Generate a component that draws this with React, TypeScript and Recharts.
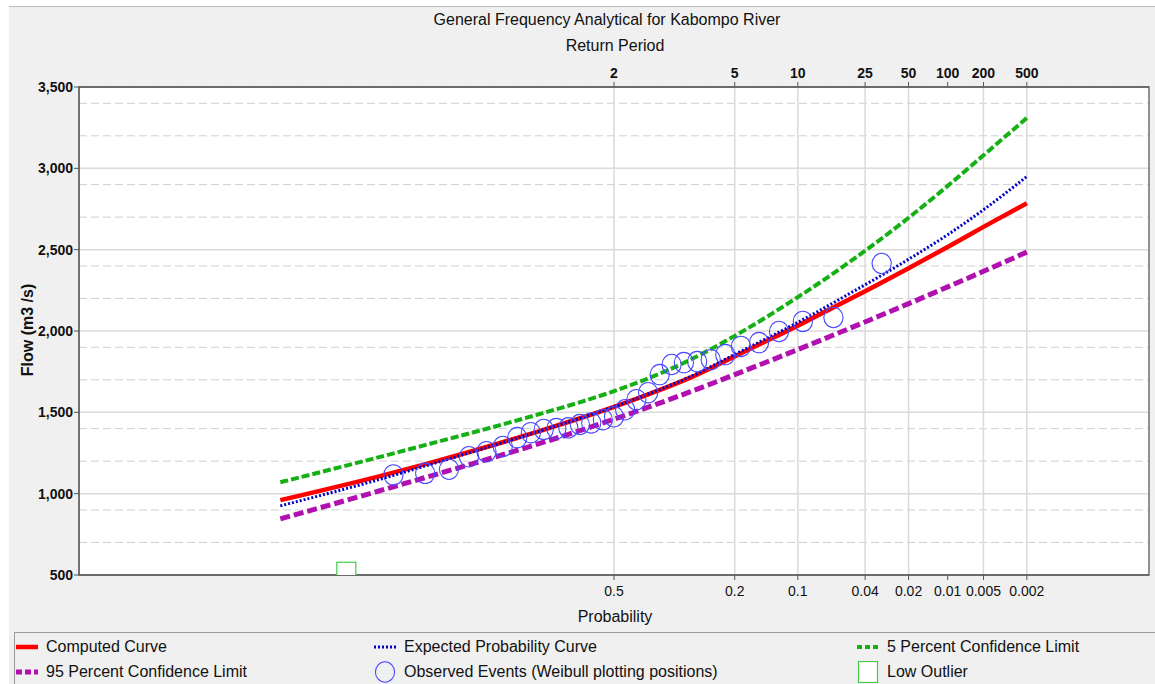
import React from "react";
import {
  ComposedChart,
  Line,
  Scatter,
  XAxis,
  YAxis,
  CartesianGrid,
  ReferenceArea,
} from "recharts";

// exceedance probabilities used for the fitted curves
const curveProb = [0.99, 0.95, 0.9, 0.8, 0.7, 0.6, 0.5, 0.4, 0.3, 0.2, 0.1, 0.05, 0.02, 0.01, 0.005, 0.002];
const computed = [960, 1105, 1189, 1299, 1383, 1459, 1534, 1615, 1710, 1844, 2033, 2196, 2386, 2517, 2640, 2785];
const expected = [925, 1085, 1179, 1296, 1383, 1459, 1534, 1618, 1716, 1856, 2053, 2231, 2441, 2592, 2745, 2950];
const upper5 = [1070, 1223, 1307, 1410, 1488, 1558, 1630, 1714, 1820, 1970, 2208, 2426, 2696, 2892, 3080, 3310];
const lower95 = [845, 1015, 1108, 1222, 1307, 1383, 1458, 1536, 1624, 1732, 1886, 2017, 2168, 2271, 2367, 2485];

// observed events, Weibull plotting positions
const observedProb = [
  0.031, 0.063, 0.094, 0.125, 0.156, 0.188, 0.219, 0.25, 0.281, 0.313,
  0.344, 0.375, 0.406, 0.438, 0.469, 0.5, 0.531, 0.563, 0.594, 0.625,
  0.656, 0.688, 0.719, 0.75, 0.781, 0.813, 0.844, 0.875, 0.906, 0.938,
];
const observedFlow = [
  2415, 2083, 2059, 1997, 1929, 1905, 1855, 1824, 1812, 1806,
  1794, 1732, 1621, 1578, 1516, 1473, 1455, 1435, 1425, 1405,
  1400, 1395, 1375, 1345, 1290, 1258, 1227, 1150, 1125, 1115,
];
const outlierProb = [0.969];
const outlierFlow = [520];

// axis ticks
const probTicks = [0.5, 0.2, 0.1, 0.04, 0.02, 0.01, 0.005, 0.002];
const probLabels = ["0.5", "0.2", "0.1", "0.04", "0.02", "0.01", "0.005", "0.002"];
const returnPeriods = [2, 5, 10, 25, 50, 100, 200, 500];
const returnLabels = ["2", "5", "10", "25", "50", "100", "200", "500"];
const flowTicks = [500, 1000, 1500, 2000, 2500, 3000, 3500];
const minorFlowTicks = [
  600, 700, 800, 900, 1100, 1200, 1300, 1400, 1600, 1700, 1800, 1900,
  2100, 2200, 2300, 2400, 2600, 2700, 2800, 2900, 3100, 3200, 3300, 3400,
];

const FONT = '"Liberation Sans", Arial, Helvetica, sans-serif';

// inverse standard normal (Acklam)
function normInv(p: number): number {
  const a = [-39.69683028665376, 220.9460984245205, -275.9285104469687, 138.357751867269, -30.66479806614716, 2.506628277459239];
  const b = [-54.47609879822406, 161.5858368580409, -155.6989798598866, 66.80131188771972, -13.28068155288572];
  const c = [-0.007784894002430293, -0.3223964580411365, -2.400758277161838, -2.549732539343734, 4.374664141464968, 2.938163982698783];
  const d = [0.007784695709041462, 0.3224671290700398, 2.445134137142996, 3.754408661907416];
  const pl = 0.02425;
  if (p < pl) {
    const q = Math.sqrt(-2 * Math.log(p));
    return (((((c[0] * q + c[1]) * q + c[2]) * q + c[3]) * q + c[4]) * q + c[5]) /
      ((((d[0] * q + d[1]) * q + d[2]) * q + d[3]) * q + 1);
  }
  if (p > 1 - pl) {
    const q = Math.sqrt(-2 * Math.log(1 - p));
    return -(((((c[0] * q + c[1]) * q + c[2]) * q + c[3]) * q + c[4]) * q + c[5]) /
      ((((d[0] * q + d[1]) * q + d[2]) * q + d[3]) * q + 1);
  }
  const q = p - 0.5;
  const r = q * q;
  return ((((((a[0] * r + a[1]) * r + a[2]) * r + a[3]) * r + a[4]) * r + a[5]) * q) /
    (((((b[0] * r + b[1]) * r + b[2]) * r + b[3]) * r + b[4]) * r + 1);
}

// exceedance probability -> normal probability paper position
const toZ = (p: number) => normInv(1 - p);

const xDomain: [number, number] = [-3.73, 3.73];
const probZ = probTicks.map(toZ);
const returnZ = returnPeriods.map((t) => toZ(1 / t));

const curveTable = curveProb.map((p, i) => ({
  z: toZ(p),
  computed: computed[i],
  expected: expected[i],
  upper5: upper5[i],
  lower95: lower95[i],
}));
const observedTable = observedProb.map((p, i) => ({ z: toZ(p), obs: observedFlow[i] }));
const outlierTable = outlierProb.map((p, i) => ({ z: toZ(p), low: outlierFlow[i] }));

const labelFor = (zs: number[], labels: string[]) => (v: number) => {
  const i = zs.findIndex((z) => Math.abs(z - v) < 1e-6);
  return i >= 0 ? labels[i] : "";
};

const CircleShape = (props: any) => (
  <ellipse cx={props.cx} cy={props.cy} rx={9.6} ry={10.2} fill="none" stroke="#4848ff" strokeWidth={1.1} />
);
const SquareShape = (props: any) => (
  <rect x={props.cx - 9.5} y={props.cy - 9.5} width={19} height={19} fill="#fff" stroke="#44cc44" strokeWidth={1.2} />
);

function LegendItem({ left, top, icon, text }: { left: number; top: number; icon: React.ReactNode; text: string }) {
  return (
    <div style={{ position: "absolute", left, top, height: 22, display: "flex", alignItems: "center" }}>
      {icon}
      <span style={{ position: "absolute", left: 30, whiteSpace: "nowrap", fontSize: 16, color: "#111" }}>{text}</span>
    </div>
  );
}

const lineIcon = (color: string, width: number, dash?: string) => (
  <svg width={22} height={22} style={{ display: "block" }}>
    <line x1={0} y1={11} x2={22} y2={11} stroke={color} strokeWidth={width} strokeDasharray={dash} />
  </svg>
);

export default function App() {
  return (
    <div
      style={{
        position: "fixed",
        left: 9,
        top: 6,
        width: 1146,
        height: 678,
        background: "#f0f0f0",
        fontFamily: FONT,
        overflow: "hidden",
      }}
    >
      <div style={{ position: "absolute", left: 0, top: 0, right: 0, height: 1, background: "#bdbdbd" }} />
      <div style={{ position: "absolute", left: 298, top: 5, width: 600, textAlign: "center", fontSize: 16, lineHeight: "18px", color: "#111" }}>
        General Frequency Analytical for Kabompo River
      </div>
      <div style={{ position: "absolute", left: 406, top: 31, width: 400, textAlign: "center", fontSize: 16, lineHeight: "18px", color: "#111" }}>
        Return Period
      </div>
      <div style={{ position: "absolute", left: 406, top: 602, width: 400, textAlign: "center", fontSize: 16, lineHeight: "18px", color: "#111" }}>
        Probability
      </div>
      <div
        style={{
          position: "absolute",
          left: 19 - 70,
          top: 324 - 9,
          width: 140,
          textAlign: "center",
          fontSize: 16,
          lineHeight: "18px",
          fontWeight: 700,
          color: "#111",
          transform: "rotate(-90deg)",
        }}
      >
        Flow (m3 /s)
      </div>

      <div style={{ position: "absolute", left: 0, top: 0 }}>
        <ComposedChart width={1146} height={600} data={curveTable} margin={{ top: 0, right: 6, bottom: 0, left: 0 }}>
          <CartesianGrid yAxisId="minor" vertical={false} stroke="#cfcfcf" strokeDasharray="8 4" fill="#ffffff" />
          <CartesianGrid stroke="#dadada" strokeWidth={1.5} />
          <XAxis
            dataKey="z"
            type="number"
            domain={xDomain}
            allowDataOverflow
            ticks={probZ}
            tickFormatter={labelFor(probZ, probLabels)}
            height={31}
            tickSize={5}
            tickMargin={6}
            stroke="#555"
            tick={{ fill: "#111", fontSize: 14, fontFamily: FONT }}
          />
          <XAxis
            xAxisId="top"
            dataKey="z"
            orientation="top"
            type="number"
            domain={xDomain}
            allowDataOverflow
            ticks={returnZ}
            tickFormatter={labelFor(returnZ, returnLabels)}
            height={81}
            tickSize={5}
            tickMargin={4}
            stroke="#555"
            tick={{ fill: "#111", fontSize: 14, fontWeight: 700, fontFamily: FONT }}
          />
          <YAxis
            type="number"
            domain={[500, 3500]}
            allowDataOverflow
            ticks={flowTicks}
            tickFormatter={(v: number) => v.toLocaleString("en-US")}
            width={70}
            tickSize={5}
            tickMargin={1}
            stroke="#555"
            tick={{ fill: "#111", fontSize: 14, fontWeight: 700, fontFamily: FONT }}
          />
          <YAxis yAxisId="minor" hide type="number" domain={[500, 3500]} ticks={minorFlowTicks} allowDataOverflow />
          {/* invisible series so the return-period axis shares the probability scale */}
          <Line xAxisId="top" dataKey="computed" stroke="none" strokeOpacity={0} dot={false} legendType="none" isAnimationActive={false} />
          <Line dataKey="upper5" type="monotone" stroke="#14b014" strokeWidth={4} strokeDasharray="8 3" dot={false} isAnimationActive={false} />
          <Line dataKey="lower95" type="monotone" stroke="#b010b0" strokeWidth={5} strokeDasharray="10 4" dot={false} isAnimationActive={false} />
          <Line dataKey="computed" type="monotone" stroke="#ff0000" strokeWidth={4.5} dot={false} isAnimationActive={false} />
          <Line dataKey="expected" type="monotone" stroke="#0000c8" strokeWidth={3} strokeDasharray="2 2" dot={false} isAnimationActive={false} />
          <Scatter data={observedTable} dataKey="obs" shape={CircleShape} isAnimationActive={false} />
          <Scatter data={outlierTable} dataKey="low" shape={SquareShape} isAnimationActive={false} />
          <ReferenceArea x1={xDomain[0]} x2={xDomain[1]} y1={500} y2={3500} fill="none" stroke="#666" strokeWidth={1.3} ifOverflow="visible" />
        </ComposedChart>
      </div>

      <div style={{ position: "absolute", left: 5, top: 626, right: 0, height: 1, background: "#9a9a9a" }} />
      <div style={{ position: "absolute", left: 5, top: 626, bottom: 0, width: 1, background: "#9a9a9a" }} />

      <LegendItem left={7} top={630} icon={lineIcon("#ff0000", 4.5)} text="Computed Curve" />
      <LegendItem left={365} top={630} icon={lineIcon("#0000c8", 3, "2 2")} text="Expected Probability Curve" />
      <LegendItem left={848} top={630} icon={lineIcon("#14b014", 4, "5 3")} text="5 Percent Confidence Limit" />
      <LegendItem left={7} top={655} icon={lineIcon("#b010b0", 5, "6 3")} text="95 Percent Confidence Limit" />
      <LegendItem
        left={365}
        top={655}
        icon={
          <svg width={22} height={22} style={{ display: "block" }}>
            <ellipse cx={11} cy={11} rx={9.6} ry={10.2} fill="none" stroke="#4848ff" strokeWidth={1.1} />
          </svg>
        }
        text="Observed Events (Weibull plotting positions)"
      />
      <LegendItem
        left={848}
        top={655}
        icon={
          <svg width={22} height={22} style={{ display: "block" }}>
            <rect x={1.5} y={0.5} width={19} height={21} fill="#fff" stroke="#44cc44" strokeWidth={1.2} />
          </svg>
        }
        text="Low Outlier"
      />
    </div>
  );
}
